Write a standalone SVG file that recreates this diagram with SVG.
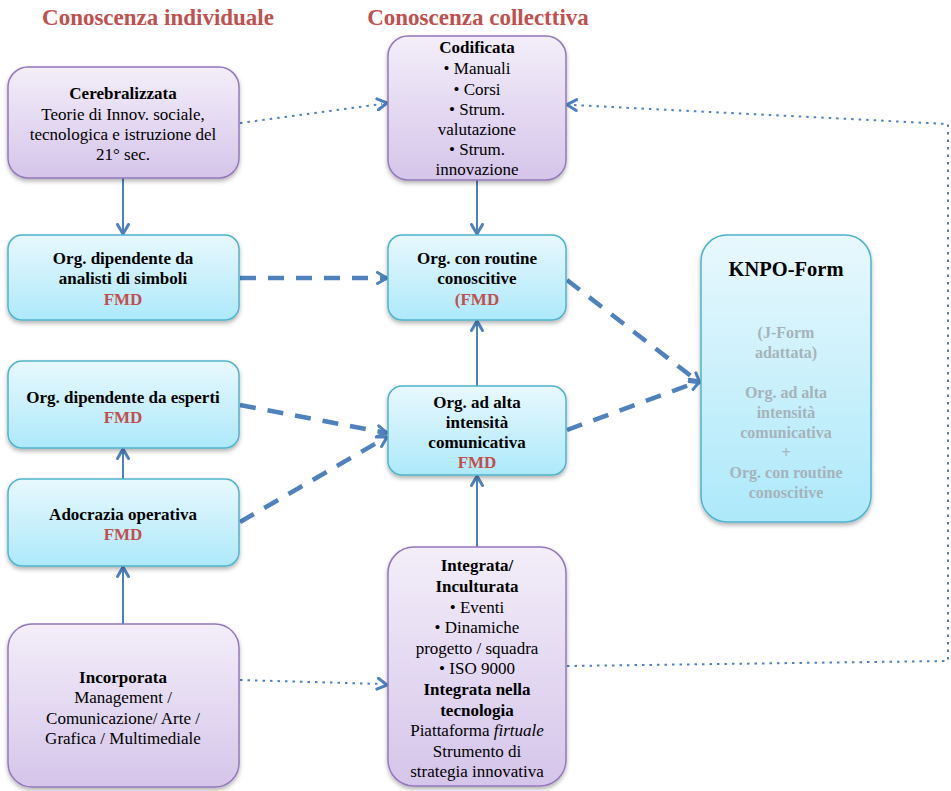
<svg xmlns="http://www.w3.org/2000/svg" width="951" height="791" viewBox="0 0 951 791">
<defs>
<linearGradient id="gP" x1="0" y1="0" x2="0" y2="1"><stop offset="0" stop-color="#f3eef9"/><stop offset="1" stop-color="#d5c5ea"/></linearGradient>
<linearGradient id="gC" x1="0" y1="0" x2="0" y2="1"><stop offset="0" stop-color="#e8f8fd"/><stop offset="1" stop-color="#ade9fa"/></linearGradient>
<filter id="sh" x="-10%" y="-10%" width="120%" height="125%"><feDropShadow dx="0" dy="2.5" stdDeviation="2" flood-color="#000" flood-opacity="0.3"/></filter>
<marker id="ah" viewBox="0 0 12 14" refX="11" refY="7" markerWidth="12" markerHeight="14" markerUnits="userSpaceOnUse" orient="auto"><path d="M1.5,1.5 L11,7 L1.5,12.5" fill="none" stroke="#4f81bd" stroke-width="3" stroke-linecap="round" stroke-linejoin="round"/></marker>
</defs>
<style>
.p{fill:url(#gP);stroke:#9378bb;stroke-width:1.5;filter:url(#sh)}
.c{fill:url(#gC);stroke:#4fb3cc;stroke-width:1.5;filter:url(#sh)}
text{font-size:17px;fill:#000;text-anchor:middle}
.b{font-weight:bold}
.r{fill:#c0504d;font-weight:bold}
.g{fill:#a5b3ba;font-weight:bold;font-size:16px}
.t{font-size:23px;font-weight:bold;fill:#c0504d}
.s{fill:none;stroke:#4f81bd;stroke-width:2;marker-end:url(#ah)}
.d{fill:none;stroke:#4f81bd;stroke-width:4.5;stroke-dasharray:16 12;marker-end:url(#ah)}
.o{fill:none;stroke:#4f81bd;stroke-width:2;stroke-dasharray:2.5 5}
</style>
<g font-family="'Liberation Serif', 'Times New Roman', 'DejaVu Serif', serif">
<text class="t" x="158" y="25">Conoscenza individuale</text>
<text class="t" x="478" y="25">Conoscenza collecttiva</text>

<g id="connectors">
<path class="s" d="M123,178 L123,234"/>
<path class="s" d="M477,180 L477,234"/>
<path class="s" d="M477,386 L477,321"/>
<path class="s" d="M477,547 L477,476"/>
<path class="s" d="M123,479 L123,449"/>
<path class="s" d="M123,624 L123,567"/>
<path class="d" d="M240,278 L387,278"/>
<path class="d" d="M240,405 L387,433"/>
<path class="d" d="M240,522 L387,437"/>
<path class="d" d="M567,280 L700,383"/>
<path class="d" d="M567,430 L700,381"/>
<path class="o" d="M240,123 L382,104"/>
<path class="s" d="M380,104 L387,103" stroke-opacity="0"/>
<path class="o" d="M240,680 L382,684"/>
<path class="s" d="M380,684 L387,685" stroke-opacity="0"/>
<path class="o" d="M567,666 L948,661 L948,124 L572,105"/>
<path class="s" d="M574,105 L567,104.7" stroke-opacity="0"/>
</g>

<g id="cerebralizzata">
<rect class="p" x="8" y="67" width="231" height="111" rx="20"/>
<text class="b" x="123" y="99">Cerebralizzata</text>
<text x="123" y="120">Teorie di Innov. sociale,</text>
<text x="123" y="140">tecnologica e istruzione del</text>
<text x="123" y="160">21° sec.</text>
</g>
<g id="codificata">
<rect class="p" x="388" y="36" width="178" height="144" rx="20"/>
<text class="b" x="477" y="53">Codificata</text>
<text x="477" y="74">• Manuali</text>
<text x="477" y="95">• Corsi</text>
<text x="477" y="115">• Strum.</text>
<text x="477" y="135">valutazione</text>
<text x="477" y="155">• Strum.</text>
<text x="477" y="175">innovazione</text>
</g>
<g id="analisti">
<rect class="c" x="8" y="235" width="231" height="85" rx="14"/>
<text class="b" x="123" y="264">Org. dipendente da</text>
<text class="b" x="123" y="284">analisti di simboli</text>
<text class="r" x="123" y="305">FMD</text>
</g>
<g id="routine">
<rect class="c" x="388" y="235" width="178" height="85" rx="14"/>
<text class="b" x="477" y="264">Org. con routine</text>
<text class="b" x="477" y="284">conoscitive</text>
<text class="r" x="477" y="305">(FMD</text>
</g>
<g id="knpo">
<rect class="c" x="701" y="235" width="170" height="287" rx="26"/>
<text class="b" x="786" y="276" style="font-size:20.5px">KNPO-Form</text>
<text class="g" x="786" y="338">(J-Form</text>
<text class="g" x="786" y="358">adattata)</text>
<text class="g" x="786" y="398">Org. ad alta</text>
<text class="g" x="786" y="418">intensità</text>
<text class="g" x="786" y="438">comunicativa</text>
<text class="g" x="786" y="458">+</text>
<text class="g" x="786" y="478">Org. con routine</text>
<text class="g" x="786" y="498">conoscitive</text>
</g>
<g id="esperti">
<rect class="c" x="8" y="361" width="231" height="87" rx="14"/>
<text class="b" x="123" y="403">Org. dipendente da esperti</text>
<text class="r" x="123" y="423">FMD</text>
</g>
<g id="intensita">
<rect class="c" x="388" y="386" width="178" height="89" rx="14"/>
<text class="b" x="477" y="408">Org. ad alta</text>
<text class="b" x="477" y="428">intensità</text>
<text class="b" x="477" y="448">comunicativa</text>
<text class="r" x="477" y="468">FMD</text>
</g>
<g id="adocrazia">
<rect class="c" x="8" y="479" width="231" height="87" rx="14"/>
<text class="b" x="123" y="520">Adocrazia operativa</text>
<text class="r" x="123" y="540">FMD</text>
</g>
<g id="incorporata">
<rect class="p" x="8" y="624" width="231" height="163" rx="24"/>
<text class="b" x="123" y="683">Incorporata</text>
<text x="123" y="703">Management /</text>
<text x="123" y="724">Comunicazione/ Arte /</text>
<text x="123" y="744">Grafica / Multimediale</text>
</g>
<g id="integrata">
<rect class="p" x="388" y="547" width="178" height="239" rx="26"/>
<text class="b" x="477" y="571">Integrata/</text>
<text class="b" x="477" y="592">Inculturata</text>
<text x="477" y="613">• Eventi</text>
<text x="477" y="633">• Dinamiche</text>
<text x="477" y="654">progetto / squadra</text>
<text x="477" y="674">• ISO 9000</text>
<text class="b" x="477" y="695">Integrata nella</text>
<text class="b" x="477" y="716">tecnologia</text>
<text x="477" y="736">Piattaforma <tspan font-style="italic">firtuale</tspan></text>
<text x="477" y="757">Strumento di</text>
<text x="477" y="777">strategia innovativa</text>
</g>
</g>
</svg>
